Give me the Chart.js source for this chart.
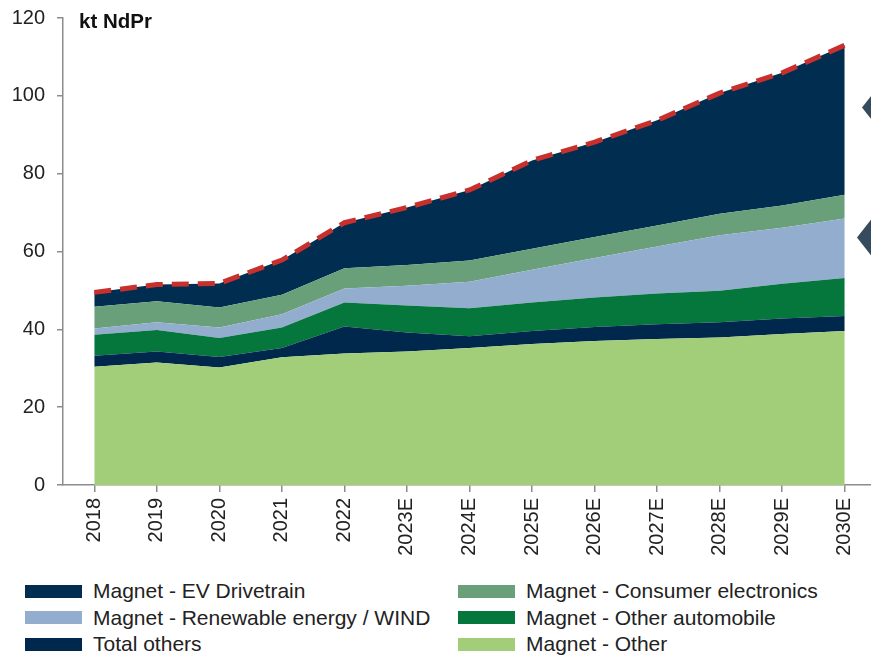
<!DOCTYPE html>
<html>
<head>
<meta charset="utf-8">
<script src="https://cdn.jsdelivr.net/npm/chart.js@4.4.0/dist/chart.umd.min.js"></script>
<style>
  body { margin: 0; background: #fff; font-family: "Liberation Sans", Arial, sans-serif; }
  #wrap { position: relative; width: 871px; height: 656px; overflow: hidden; }
  #box { position: absolute; left: 0; top: 0; width: 876px; height: 570px; }
  #legend { position: absolute; left: 25px; top: 578px; display: grid; grid-template-columns: 433px 413px; }
  .item { display: flex; align-items: center; height: 26.5px; font-size: 21px; color: #222; white-space: nowrap; }
  .sw { width: 57px; height: 13px; margin-right: 11px; flex: none; }
</style>
</head>
<body>
<div id="wrap">
  <div id="box"><canvas id="chart"></canvas></div>
  <div id="legend"></div>
</div>
<script>
// kt NdPr demand by end use
const years = ["2018", "2019", "2020", "2021", "2022", "2023E", "2024E", "2025E", "2026E", "2027E", "2028E", "2029E", "2030E"];
const magnetOther   = [30.4, 31.5, 30.2, 32.8, 33.8, 34.3, 35.2, 36.2, 37.0, 37.5, 37.9, 38.8, 39.6];
const totalOthers   = [2.8, 2.8, 2.7, 2.4, 6.9, 4.9, 3.0, 3.4, 3.6, 3.8, 3.9, 4.0, 3.8];
const otherAuto     = [5.4, 5.5, 4.9, 5.3, 6.2, 6.9, 7.2, 7.3, 7.6, 7.9, 8.1, 8.9, 9.8];
const windEnergy    = [1.6, 2.0, 2.7, 3.4, 3.6, 5.1, 6.8, 8.4, 10.1, 12.1, 14.3, 14.4, 15.3];
const consumerElec  = [5.6, 5.4, 5.1, 5.0, 5.2, 5.3, 5.5, 5.4, 5.4, 5.4, 5.5, 5.7, 6.1];
const evDrivetrain  = [3.7, 4.3, 6.2, 8.9, 11.7, 14.8, 18.1, 22.7, 24.4, 27.0, 31.0, 34.1, 38.4];

const unitLabel = "kt NdPr";
const calloutLevels = [97, 63.6]; // where the cut-off callout arrows point

// stack order bottom -> top
const layers = [
  { label: "Magnet - Other", data: magnetOther, color: "#a2cd79" },
  { label: "Total others", data: totalOthers, color: "#00284c" },
  { label: "Magnet - Other automobile", data: otherAuto, color: "#05763c" },
  { label: "Magnet - Renewable energy / WIND", data: windEnergy, color: "#93adcf" },
  { label: "Magnet - Consumer electronics", data: consumerElec, color: "#69a07a" },
  { label: "Magnet - EV Drivetrain", data: evDrivetrain, color: "#002d50" },
];
const legendOrder = [5, 4, 3, 2, 1, 0];

const total = years.map((_, i) => layers.reduce((s, l) => s + l.data[i], 0));

const datasets = layers.map((l, i) => ({
  label: l.label,
  data: l.data,
  backgroundColor: l.color,
  borderColor: l.color,
  borderWidth: 0,
  pointRadius: 0,
  tension: 0,
  fill: i === 0 ? "origin" : "-1",
  stack: "demand",
}));
datasets.push({
  label: "Total",
  data: total,
  borderColor: "#c8302e",
  borderWidth: 5,
  borderDash: [17, 9],
  pointRadius: 0,
  fill: false,
  stack: "total",
  order: -1,
});

const extras = {
  id: "extras",
  afterDraw(chart) {
    const { ctx, chartArea, scales } = chart;
    ctx.save();
    ctx.font = 'bold 20.5px "Liberation Sans", Arial, sans-serif';
    ctx.fillStyle = "#111";
    ctx.textBaseline = "top";
    ctx.fillText(unitLabel, chartArea.left + 16, chartArea.top - 6);
    ctx.fillStyle = "#364b5e";
    calloutLevels.forEach((v, k) => {
      const y = scales.y.getPixelForValue(v);
      const x = chartArea.right - (k === 0 ? 14 : 19);
      ctx.beginPath();
      ctx.moveTo(x, y);
      ctx.lineTo(x + 22, y - 28);
      ctx.lineTo(x + 22, y + 28);
      ctx.closePath();
      ctx.fill();
    });
    ctx.restore();
  },
};

const axisGrey = "#8c8c8c";
const tickFont = { size: 20, family: '"Liberation Sans", Arial, sans-serif' };
new Chart(document.getElementById("chart"), {
  type: "line",
  data: { labels: years, datasets: datasets },
  options: {
    responsive: true,
    maintainAspectRatio: false,
    animation: false,
    layout: { padding: { top: 18, right: 0, bottom: 0, left: 0 } },
    plugins: { legend: { display: false }, tooltip: { enabled: false } },
    scales: {
      x: {
        offset: true,
        grid: { drawOnChartArea: false, drawTicks: true, tickLength: 7, color: axisGrey, lineWidth: 1.5 },
        border: { color: axisGrey, width: 1.5 },
        ticks: { autoSkip: false, minRotation: 90, maxRotation: 90, padding: 6, color: "#222", font: tickFont },
        afterFit: (s) => { s.height = 85; },
      },
      y: {
        stacked: true,
        min: 0,
        max: 120,
        grid: { drawOnChartArea: false, drawTicks: true, tickLength: 6, color: axisGrey, lineWidth: 1.5 },
        border: { color: axisGrey, width: 1.5 },
        ticks: { stepSize: 20, padding: 12, color: "#222", font: tickFont },
        afterFit: (s) => { s.width = 63; s.paddingTop = 0; s.paddingBottom = 0; },
      },
    },
  },
  plugins: [extras],
});

// two-column legend, read from the same datasets
const leg = document.getElementById("legend");
legendOrder.forEach((idx) => {
  const l = layers[idx];
  const item = document.createElement("div");
  item.className = "item";
  item.innerHTML = '<span class="sw" style="background:' + l.color + '"></span>' + l.label;
  leg.appendChild(item);
});
</script>
</body>
</html>
